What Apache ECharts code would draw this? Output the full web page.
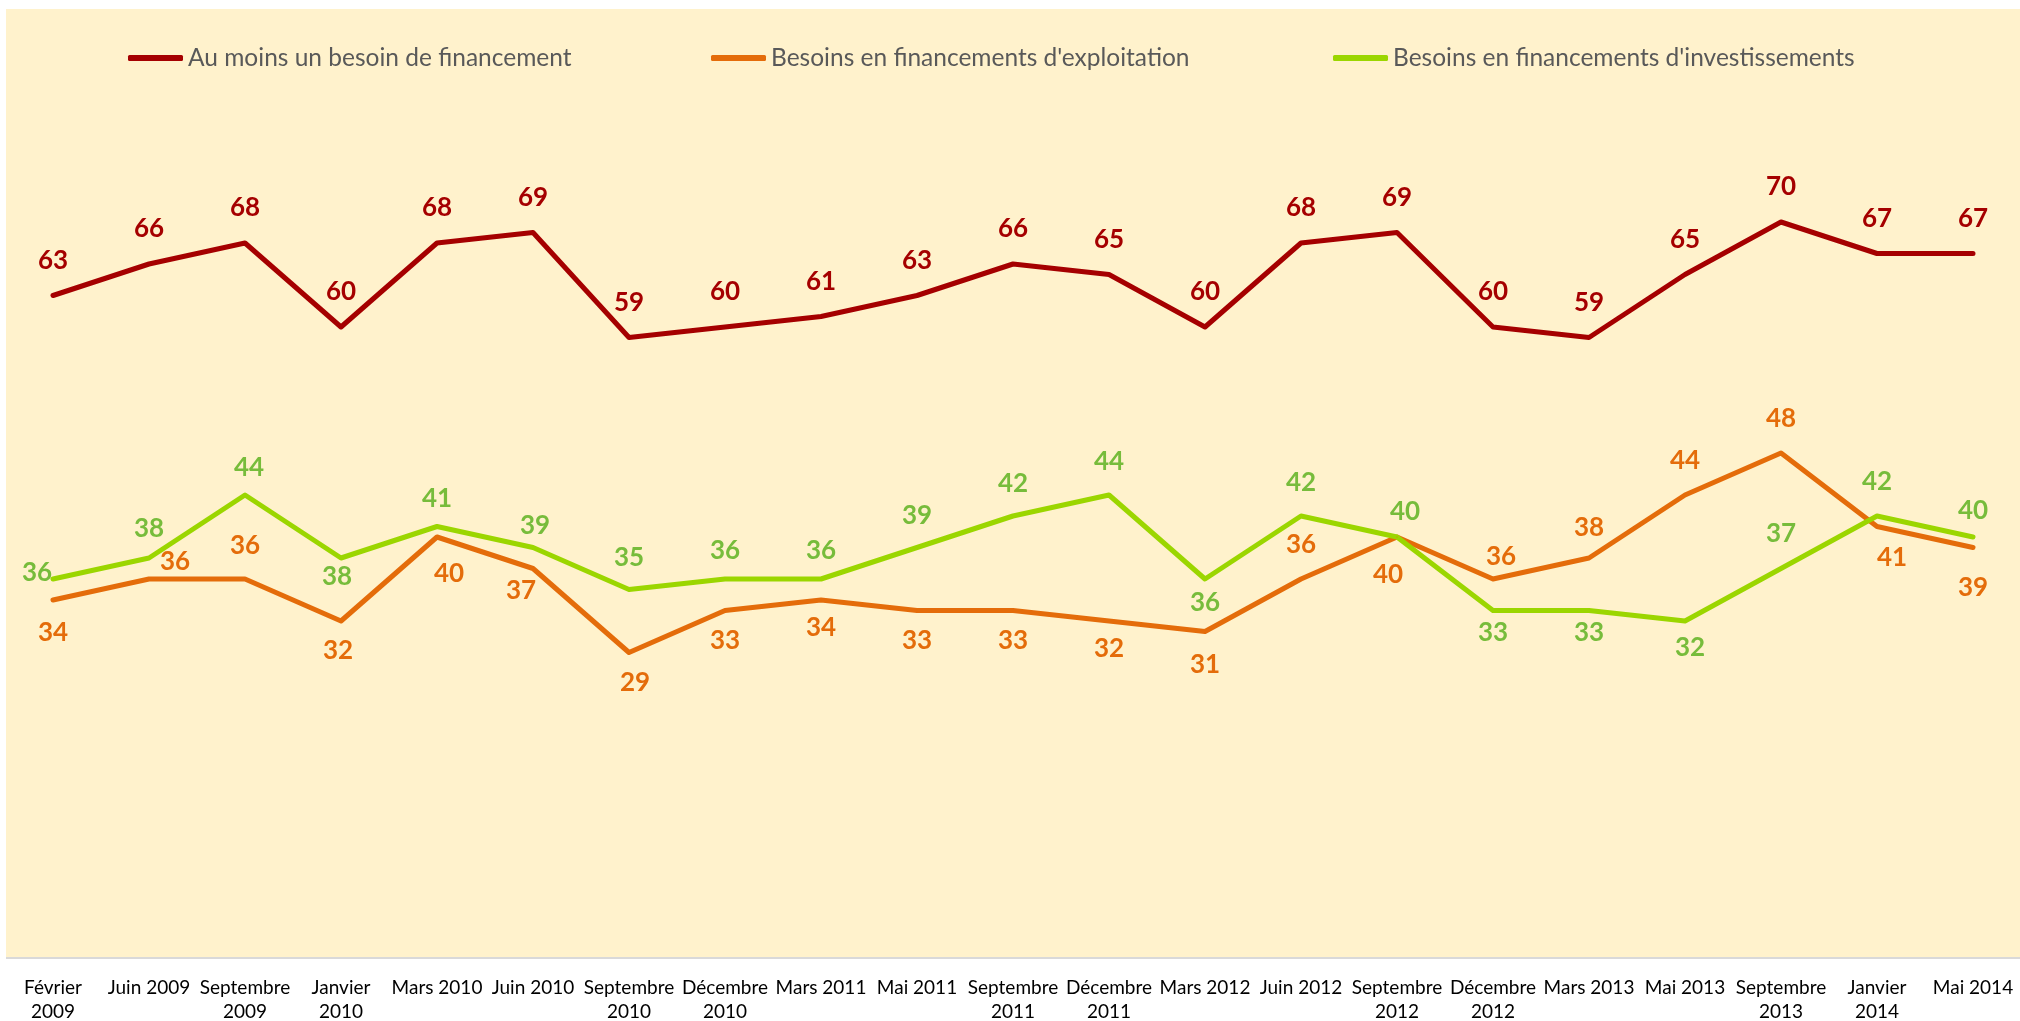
<!DOCTYPE html>
<html>
<head>
<meta charset="utf-8">
<title>Besoins de financement</title>
<script src="https://cdn.jsdelivr.net/npm/echarts@6/dist/echarts.min.js"></script>
<style>
  html, body { margin: 0; padding: 0; background: #ffffff; }
  #chart { width: 2020px; height: 1021px; }
</style>
</head>
<body>
<div id="chart"></div>
<script>
var categories = ['Février 2009', 'Juin 2009', 'Septembre 2009', 'Janvier 2010', 'Mars 2010', 'Juin 2010',
  'Septembre 2010', 'Décembre 2010', 'Mars 2011', 'Mai 2011', 'Septembre 2011', 'Décembre 2011',
  'Mars 2012', 'Juin 2012', 'Septembre 2012', 'Décembre 2012', 'Mars 2013', 'Mai 2013',
  'Septembre 2013', 'Janvier 2014', 'Mai 2014'];

var seriesNames = ['Au moins un besoin de financement',
  "Besoins en financements d'exploitation",
  "Besoins en financements d'investissements"];

var auMoinsUn = [63, 66, 68, 60, 68, 69, 59, 60, 61, 63, 66, 65, 60, 68, 69, 60, 59, 65, 70, 67, 67];
var exploitation = [34, 36, 36, 32, 40, 37, 29, 33, 34, 33, 33, 32, 31, 36, 40, 36, 38, 44, 48, 41, 39];
var investissements = [36, 38, 44, 38, 41, 39, 35, 36, 36, 39, 42, 44, 36, 42, 40, 33, 33, 32, 37, 42, 40];

// placement des étiquettes : décalage du centre du texte par rapport au point (px)
var exploitationLabelOffsets = [[0, 33], [26, -17], [0, -33], [-3, 30], [12, 37], [-12, 22], [6, 30],
  [0, 30], [0, 28], [0, 30], [0, 30], [0, 28], [0, 33], [0, -34], [-9, 38], [8, -22], [0, -30],
  [0, -34], [0, -34], [15, 31], [0, 40]];
var investLabelOffsets = [[-16, -6], [0, -29], [4, -27], [-4, 19], [0, -28], [2, -22], [0, -32],
  [0, -28], [0, -28], [0, -32], [0, -32], [0, -33], [0, 24], [0, -33], [8, -25], [0, 22], [0, 22],
  [5, 27], [0, -35], [0, -34], [0, -26]];

var RED = '#A50000', ORANGE = '#E46C0A', GREEN = '#9BD600', GREEN_TXT = '#77BC3B';
var FONT = 'Lato, "Open Sans", sans-serif';

function points(values, offsets) {
  return values.map(function (v, i) {
    return { value: v, label: { offset: offsets ? offsets[i] : [0, -35] } };
  });
}

function lineSeries(name, values, offsets, color, txtColor) {
  return {
    name: name,
    type: 'line',
    data: points(values, offsets),
    symbol: 'circle',
    symbolSize: 2,
    itemStyle: { color: color },
    lineStyle: { color: color, width: 5, cap: 'round', join: 'round' },
    label: {
      show: true,
      position: 'inside',
      color: txtColor,
      fontFamily: FONT,
      fontWeight: 'bold',
      fontSize: 26
    }
  };
}

function legendAt(name, left) {
  return {
    data: [name],
    left: left,
    top: 44,
    padding: 0,
    icon: 'roundRect',
    itemWidth: 55,
    itemHeight: 6,
    textStyle: { fontFamily: FONT, fontSize: 24.5, color: '#595959', lineHeight: 28 }
  };
}

var chart = echarts.init(document.getElementById('chart'));
chart.setOption({
  animation: false,
  backgroundColor: '#ffffff',
  graphic: [{
    type: 'rect',
    silent: true,
    z: -10,
    shape: { x: 6, y: 9, width: 2014, height: 948 },
    style: { fill: '#FFF2CC' }
  }, {
    // bordure basse grise sur toute la largeur
    type: 'line',
    silent: true,
    z: -9,
    shape: { x1: 6, y1: 958, x2: 2020, y2: 958 },
    style: { stroke: '#D9D9D9', lineWidth: 2 }
  }],
  legend: [
    legendAt(seriesNames[0], 128),
    legendAt(seriesNames[1], 711),
    legendAt(seriesNames[2], 1333)
  ],
  grid: { left: 53, right: 47, top: 117, bottom: 64, outerBoundsMode: 'none' },
  xAxis: {
    type: 'category',
    boundaryGap: false,
    data: categories,
    axisLine: { show: false },
    axisTick: { show: false },
    axisLabel: {
      interval: 0,
      margin: 19,
      fontFamily: FONT,
      fontSize: 19,
      lineHeight: 24,
      color: '#000000',
      formatter: function (v) { return v.length > 9 ? v.replace(' ', '\n') : v; }
    }
  },
  yAxis: { type: 'value', min: 0, max: 80, show: false },
  series: [
    lineSeries(seriesNames[0], auMoinsUn, null, RED, RED),
    lineSeries(seriesNames[1], exploitation, exploitationLabelOffsets, ORANGE, ORANGE),
    lineSeries(seriesNames[2], investissements, investLabelOffsets, GREEN, GREEN_TXT)
  ]
});
</script>
</body>
</html>
